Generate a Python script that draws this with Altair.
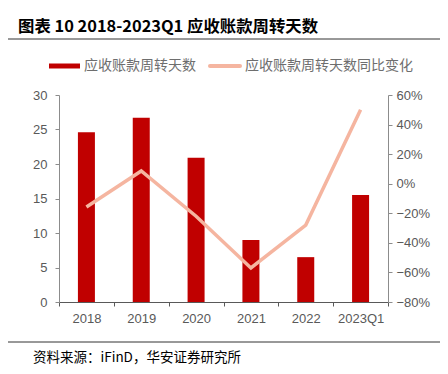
import altair as alt
import pandas as pd

categories = ["2018", "2019", "2020", "2021", "2022", "2023Q1"]
days = [24.6, 26.7, 20.9, 9.0, 6.5, 15.5]
yoy = [-0.157, 0.086, -0.22, -0.57, -0.28, 0.50]

title_text = "图表 10 2018-2023Q1 应收账款周转天数"
legend_labels = ["应收账款周转天数", "应收账款周转天数同比变化"]
source_text = "资料来源：iFinD，华安证券研究所"

BAR_COLOR = "#C00000"
LINE_COLOR = "#F5B5A0"
AXIS_GRAY = "#8C8C8C"
LABEL_GRAY = "#595959"
LEGEND_GRAY = "#6E6E6E"
NUM_FONT = "Liberation Sans"
CJK_FONT = "Noto Sans CJK SC"

df = pd.DataFrame({"cat": categories, "days": days, "yoy": yoy})

x_enc = alt.X(
    "cat:N",
    sort=categories,
    scale=alt.Scale(paddingInner=0, paddingOuter=0),
    axis=alt.Axis(
        title=None, labelAngle=0, tickBand="extent", tickSize=4,
        domainColor="#595959", tickColor="#595959",
        labelColor=LABEL_GRAY, labelFont=NUM_FONT, labelFontSize=13,
        labelPadding=6,
    ),
)

bars = alt.Chart(df).mark_bar(color=BAR_COLOR, size=17).encode(
    x=x_enc,
    y=alt.Y(
        "days:Q",
        scale=alt.Scale(domain=[0, 30], nice=False),
        axis=alt.Axis(
            title=None, orient="left", values=[0, 5, 10, 15, 20, 25, 30],
            grid=False, domainColor=AXIS_GRAY, tickColor=AXIS_GRAY, tickSize=4,
            labelColor=LABEL_GRAY, labelFont=NUM_FONT, labelFontSize=13,
            labelPadding=8,
        ),
    ),
)

line = alt.Chart(df).mark_line(color=LINE_COLOR, strokeWidth=3.5).encode(
    x=alt.X("cat:N", sort=categories),
    y=alt.Y(
        "yoy:Q",
        scale=alt.Scale(domain=[-0.8, 0.6], nice=False),
        axis=alt.Axis(
            title=None, orient="right",
            values=[-0.8, -0.6, -0.4, -0.2, 0, 0.2, 0.4, 0.6], format=".0%",
            grid=False, domainColor=AXIS_GRAY, tickColor=AXIS_GRAY, tickSize=4,
            labelColor=LABEL_GRAY, labelFont=NUM_FONT, labelFontSize=13,
            labelPadding=4,
        ),
    ),
)

one = pd.DataFrame({"t": [title_text]})
title = alt.Chart(one).mark_text(
    align="left", baseline="middle", font=CJK_FONT, fontSize=16.4,
    fontWeight="bold", color="#000000",
).encode(x=alt.value(-41), y=alt.value(-68), text="t:N")

title_rule = alt.Chart(one).mark_rule(color="#333333", strokeWidth=1).encode(
    x=alt.value(-59), x2=alt.value(388), y=alt.value(-56)
)

leg1_sw = alt.Chart(one).mark_rule(color=BAR_COLOR, strokeWidth=5).encode(
    x=alt.value(-10), x2=alt.value(21), y=alt.value(-29)
)
leg1_tx = alt.Chart(pd.DataFrame({"t": [legend_labels[0]]})).mark_text(
    align="left", baseline="middle", font=CJK_FONT, fontSize=14, color=LEGEND_GRAY
).encode(x=alt.value(25), y=alt.value(-29), text="t:N")
leg2_sw = alt.Chart(one).mark_rule(color=LINE_COLOR, strokeWidth=4, strokeCap="round").encode(
    x=alt.value(151), x2=alt.value(181), y=alt.value(-29)
)
leg2_tx = alt.Chart(pd.DataFrame({"t": [legend_labels[1]]})).mark_text(
    align="left", baseline="middle", font=CJK_FONT, fontSize=14, color=LEGEND_GRAY
).encode(x=alt.value(186), y=alt.value(-29), text="t:N")

foot_rule = alt.Chart(one).mark_rule(color="#333333", strokeWidth=1).encode(
    x=alt.value(-59), x2=alt.value(388), y=alt.value(247)
)
foot_tx = alt.Chart(pd.DataFrame({"t": [source_text]})).mark_text(
    align="left", baseline="middle", font=CJK_FONT, fontSize=13.5, color="#000000"
).encode(x=alt.value(-26), y=alt.value(263), text="t:N")

chart = (
    alt.layer(bars, line, title, title_rule, leg1_sw, leg1_tx, leg2_sw, leg2_tx, foot_rule, foot_tx)
    .resolve_scale(y="independent")
    .properties(
        width=329, height=207,
        padding={"left": 51, "top": 87, "right": 52, "bottom": 64},
        autosize=alt.AutoSizeParams(type="none"),
    )
    .configure_view(stroke=None)
)

chart.save("out.html", embed_options={"renderer": "svg", "actions": False})
